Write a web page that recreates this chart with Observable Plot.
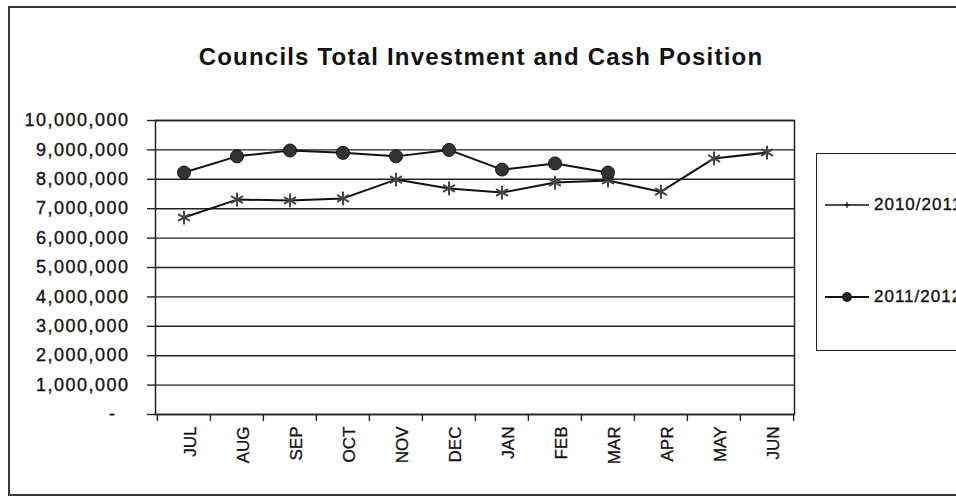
<!DOCTYPE html>
<html>
<head>
<meta charset="utf-8">
<script src="https://cdn.jsdelivr.net/npm/d3@7"></script>
<script src="https://cdn.jsdelivr.net/npm/@observablehq/plot@0.6"></script>
<style>
  html, body { margin: 0; padding: 0; background: #fff; overflow: hidden; }
  #wrap { position: relative; width: 956px; height: 503px; overflow: hidden; font-family: "Liberation Sans", Arial, sans-serif; }
  #chart { position: absolute; left: 0; top: 0; }
  #outer { position: absolute; left: 8px; top: 6px; width: 1000px; height: 490px; border: 2px solid #3a3a3a; box-sizing: border-box; }
  #title { position: absolute; left: 0; width: 962px; top: 46px; text-align: center; font-size: 24px; line-height: 22px; font-weight: bold; letter-spacing: 1.2px; color: #111; }
  #legend { position: absolute; left: 816px; top: 153px; width: 200px; height: 198px; border: 1.5px solid #222; box-sizing: border-box; background: #fff; }
  .lg { position: absolute; left: 8px; height: 20px; display: flex; align-items: center; font-size: 17px; letter-spacing: 1px; color: #111; white-space: nowrap; -webkit-text-stroke: 0.35px #111; }
  .lg svg { margin-right: 5px; }
  g[aria-label="y-axis tick label"] text { letter-spacing: 1.5px; stroke: #111; stroke-width: 0.35px; }
  g[aria-label="x-axis tick label"] text { stroke: #111; stroke-width: 0.3px; }
</style>
</head>
<body>
<div id="wrap">
  <div id="outer"></div>
  <div id="title"></div>
  <div id="chart"></div>
  <div id="legend"></div>
</div>
<script>
// ---- data ----
const months = ["JUL","AUG","SEP","OCT","NOV","DEC","JAN","FEB","MAR","APR","MAY","JUN"];
const seriesNames = ["2010/2011", "2011/2012"];
const values2010 = [6700000, 7310000, 7280000, 7350000, 7990000, 7690000, 7550000, 7890000, 7960000, 7580000, 8710000, 8910000];
const values2011 = [8230000, 8780000, 8980000, 8900000, 8780000, 9000000, 8330000, 8540000, 8230000];
const yTicks = [0, 1000000, 2000000, 3000000, 4000000, 5000000, 6000000, 7000000, 8000000, 9000000, 10000000];
const titleText = "Councils Total Investment and Cash Position";

const rows2010 = values2010.map((v, i) => ({month: months[i], value: v, series: seriesNames[0]}));
const rows2011 = values2011.map((v, i) => ({month: months[i], value: v, series: seriesNames[1]}));
const rows = rows2010.concat(rows2011);

const W = 956, H = 503;
const mL = 155, mR = 162, mT = 120, mB = 89;
const bw = (W - mL - mR) / months.length;

const fmt = d3.format(",");
const chart = Plot.plot({
  width: W,
  height: H,
  marginLeft: mL,
  marginRight: mR,
  marginTop: mT,
  marginBottom: mB,
  style: {fontFamily: "'Liberation Sans', Arial, sans-serif", color: "#111", background: "transparent"},
  x: {type: "band", domain: months, padding: 0},
  y: {domain: [0, 10000000]},
  marks: [
    Plot.gridY(yTicks, {stroke: "#222", strokeOpacity: 1, strokeWidth: 1.4}),
    Plot.frame({stroke: "#222", strokeWidth: 1.5}),
    Plot.axisY(yTicks, {
      tickSize: 8, tickPadding: 18, fontSize: 18,
      tickFormat: d => d === 0 ? "-\u00a0\u00a0" : fmt(d),
      stroke: "#222", strokeWidth: 1.4, label: null
    }),
    Plot.axisX(months, {tickSize: 0, tickPadding: 12, rotate: -90, textAnchor: "end", fontSize: 17, label: null}),
    Plot.axisX(months, {tickSize: 7, tickFormat: () => "", dx: -bw / 2, stroke: "#222", strokeWidth: 1.4, label: null}),
    Plot.axisX([months[months.length - 1]], {tickSize: 7, tickFormat: () => "", dx: bw / 2, stroke: "#222", strokeWidth: 1.4, label: null}),
    Plot.line(rows, {x: "month", y: "value", z: "series", stroke: "#111", strokeWidth: 2}),
    Plot.dot(rows2010, {x: "month", y: "value", symbol: "asterisk", r: 6.5, stroke: "#444", strokeWidth: 2}),
    Plot.dot(rows2011, {x: "month", y: "value", symbol: "circle", r: 6.5, fill: "#333", stroke: "#111", strokeWidth: 1})
  ]
});
document.getElementById("chart").appendChild(chart);
document.getElementById("title").textContent = titleText;

// legend
const legend = document.getElementById("legend");
const legendTops = [41, 133];
seriesNames.forEach((name, i) => {
  const item = document.createElement("div");
  item.className = "lg";
  item.style.top = legendTops[i] + "px";
  const sw = i === 0
    ? `<svg width="44" height="14"><line x1="0" y1="7" x2="44" y2="7" stroke="#111" stroke-width="1.6"/><path d="M19,7h6M22,4v6" stroke="#111" stroke-width="1.2"/></svg>`
    : `<svg width="44" height="14"><line x1="0" y1="7" x2="44" y2="7" stroke="#111" stroke-width="2"/><circle cx="22" cy="7" r="5" fill="#222"/></svg>`;
  item.innerHTML = sw + "<span>" + name + "</span>";
  legend.appendChild(item);
});
</script>
</body>
</html>
